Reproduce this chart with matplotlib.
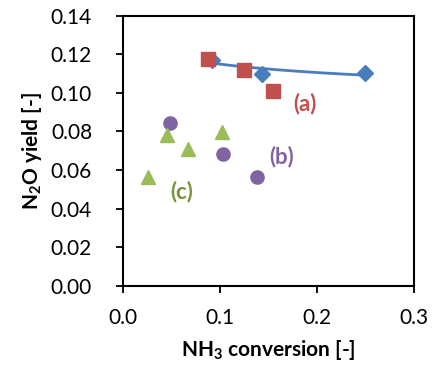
import numpy as np
import matplotlib
matplotlib.use("Agg")
import matplotlib.pyplot as plt

plt.rcParams['font.family'] = ['Lato', 'DejaVu Sans']
plt.rcParams['mathtext.fontset'] = 'custom'
plt.rcParams['mathtext.rm'] = 'Lato'
plt.rcParams['mathtext.bf'] = 'Lato:bold'

# Series (a): blue diamonds with trendline, red squares
a_blue_x = [0.092, 0.144, 0.250]
a_blue_y = [0.1170, 0.1097, 0.1104]
a_red_x = [0.088, 0.125, 0.155]
a_red_y = [0.1175, 0.1120, 0.1010]

# Series (b): purple circles
b_x = [0.049, 0.104, 0.139]
b_y = [0.0845, 0.0683, 0.0563]

# Series (c): green triangles
c_x = [0.026, 0.046, 0.067, 0.102]
c_y = [0.0565, 0.0780, 0.0710, 0.0795]

blue = '#4A7EBB'
red = '#C0504D'
purple = '#8064A2'
green = '#9BBB59'

fig = plt.figure(figsize=(4.41, 3.70), dpi=100)
ax = fig.add_axes([0.278, 0.227, 0.660, 0.731])

# logarithmic trendline through the blue points
coef = np.polyfit(np.log(a_blue_x), a_blue_y, 1)
xt = np.linspace(min(a_blue_x), max(a_blue_x), 100)
yt = coef[0] * np.log(xt) + coef[1]

ax.plot(a_blue_x, a_blue_y, 'D', color=blue, markersize=8, zorder=3)
ax.plot(xt, yt, '-', color=blue, lw=2, zorder=3)
ax.plot(a_red_x, a_red_y, 's', color=red, markersize=9.5, zorder=4)
ax.plot(b_x, b_y, 'o', color=purple, markersize=9.5, zorder=4)
ax.plot(c_x, c_y, '^', color=green, markersize=10, zorder=4)

ax.text(0.188, 0.0947, '(a)', color=red, fontsize=16, fontweight='bold', ha='center', va='center')
ax.text(0.164, 0.0669, '(b)', color=purple, fontsize=16, fontweight='bold', ha='center', va='center')
ax.text(0.061, 0.0490, '(c)', color='#77933C', fontsize=16, fontweight='bold', ha='center', va='center')

ax.set_xlim(0, 0.3)
ax.set_ylim(0, 0.14)
ax.set_xticks([0.0, 0.1, 0.2, 0.3])
ax.set_xticklabels(['0.0', '0.1', '0.2', '0.3'])
ax.set_yticks(np.arange(0, 0.141, 0.02))
ax.set_yticklabels(['%.2f' % v for v in np.arange(0, 0.141, 0.02)])

ax.tick_params(axis='both', direction='out', length=5, width=1.3, labelsize=15, colors='black')
ax.tick_params(axis='y', pad=17)
ax.tick_params(axis='x', pad=11)
ax.tick_params(axis='x', which='both', top=False)
ax.tick_params(axis='y', which='both', right=False)
for s in ax.spines.values():
    s.set_linewidth(1.5)
    s.set_color('black')

ax.set_xlabel(r'NH$_\mathbf{3}$ conversion [-]', fontsize=15, fontweight='bold', labelpad=7)
ax.set_ylabel(r'N$_\mathbf{2}$O yield [-]', fontsize=15, fontweight='bold', labelpad=5)

fig.savefig('out.png', dpi=100)
